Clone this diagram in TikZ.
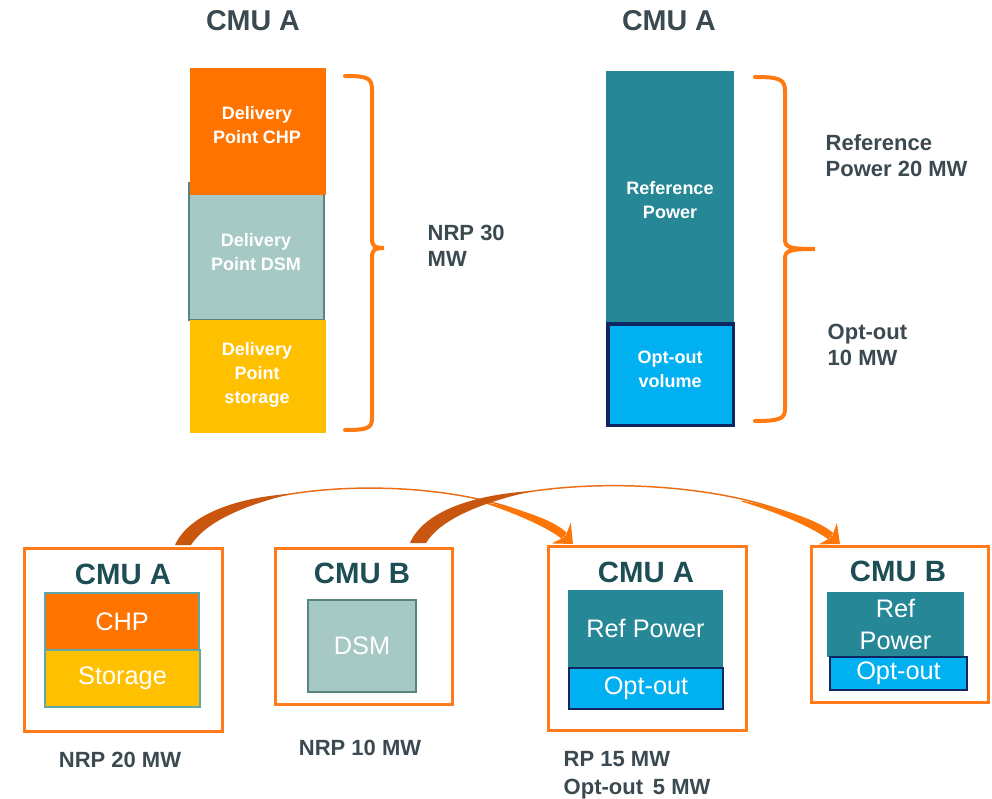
\documentclass[tikz,border=0pt]{standalone}
\usepackage{fontspec}
\setmainfont{Liberation Sans}
\usetikzlibrary{arrows.meta,calc,shadows}
\definecolor{cOrange}{HTML}{FF7300}
\definecolor{cYellow}{HTML}{FFC000}
\definecolor{cDsm}{HTML}{A6C9C6}
\definecolor{cDsmLine}{HTML}{55857E}
\definecolor{cTeal}{HTML}{268896}
\definecolor{cCyan}{HTML}{00B0F0}
\definecolor{cNavy}{HTML}{0F2660}
\definecolor{cText}{HTML}{3B4A50}
\definecolor{cTitle}{HTML}{1E4E55}
\definecolor{cBrace}{HTML}{FF7A10}
\definecolor{cFrame}{HTML}{FF7A1A}
\definecolor{cArrow}{HTML}{EA6E16}
\definecolor{cArrowEnd}{HTML}{FF7608}
\definecolor{cArrowDark}{HTML}{C8560F}
\definecolor{cInner}{HTML}{5FA8A6}
\begin{document}
\begin{tikzpicture}[x=0.75pt,y=-0.75pt,
  blk/.style={anchor=north west,inner sep=0pt,outer sep=0pt,align=center,text=white},
  btxt/.style={font=\fontsize{13.5}{18}\selectfont\bfseries,text=white,align=center},
  smalltxt/.style={font=\fontsize{19}{22}\selectfont},
  title/.style={font=\fontsize{21.5}{24}\selectfont\bfseries,text=cText},
  btitle/.style={font=\fontsize{22}{24}\selectfont\bfseries,text=cTitle},
  lbl/.style={font=\fontsize{16.5}{19.5}\selectfont\bfseries,text=cText,align=left},
  frame/.style={anchor=north west,draw=cFrame,line width=2.2pt,fill=white,inner sep=0pt,
    drop shadow={opacity=0.15,shadow xshift=1.5pt,shadow yshift=-1.5pt}},
  brace/.style={draw=cBrace,line width=3pt,line cap=round},
  conn/.style={draw=cArrow,line width=1.1pt,-{Stealth[length=12pt,width=21pt,inset=4pt,color=cArrowEnd]}}
]
\useasboundingbox (0,0) rectangle (992,799);

% ---------- top left ----------
\node[title] (t1) at (253,21) {CMU A};
\node[blk,fill=cDsm,draw=cDsmLine,line width=1.5pt,minimum width=101.25pt,minimum height=102.75pt] (dsm) at (189,183) {};
\node[blk,fill=cOrange,minimum width=102pt,minimum height=95.25pt] (chp) at (190,68) {};
\node[blk,fill=cYellow,minimum width=102pt,minimum height=84.75pt] (sto) at (190,320) {};
\node[btxt] (chpT) at (257,125) {Delivery\\Point CHP};
\node[btxt] (dsmT) at (256,252) {Delivery\\Point DSM};
\node[btxt] (stoT) at (257,375) {Delivery\\Point\\storage};
\draw[brace] (345,76) .. controls (368,76) and (372,78) .. (372,90) -- (372,238)
  .. controls (372,246) and (374,248) .. (384,248)
  .. controls (374,248) and (372,250) .. (372,258) -- (372,418)
  .. controls (372,428) and (368,430) .. (345,430);
\node[lbl,anchor=north west] (nrp30) at (423,220) {NRP 30\\MW};

% ---------- top right ----------
\node[title] (t2) at (669,21) {CMU A};
\node[blk,fill=cTeal,minimum width=96pt,minimum height=189pt] (ref) at (606,71) {};
\node[blk,fill=cCyan,draw=cNavy,line width=2.3pt,minimum width=94pt,minimum height=76pt] (opt) at (608,324) {};
\node[btxt] (refT) at (670,200) {Reference\\Power};
\node[btxt] (optT) at (670,369) {Opt-out\\volume};
\draw[brace] (755,77) .. controls (779,77) and (785,79) .. (785,91) -- (785,239)
  .. controls (785,247) and (788,249) .. (815,249)
  .. controls (788,249) and (785,251) .. (785,259) -- (785,409)
  .. controls (785,419) and (779,421) .. (755,421);
\node[lbl,anchor=north west] (rp20) at (821,130) {Reference\\Power 20 MW};
\node[lbl,anchor=north west] (oo10) at (823,319) {Opt-out\\10 MW};

% ---------- bottom ----------
\node[frame,minimum width=148.5pt,minimum height=137.25pt] (b1) at (23,547) {};
\node[btitle] (b1t) at (123,574) {CMU A};
\node[blk,smalltxt,fill=cOrange,draw=cInner,line width=0.8pt,minimum width=115.5pt,minimum height=42.75pt] (b1chp) at (45,593) {CHP};
\node[blk,smalltxt,fill=cYellow,draw=cInner,line width=0.8pt,minimum width=116.25pt,minimum height=42.75pt] (b1sto) at (45,650) {Storage};
\node[lbl] (nrp20) at (120,760) {NRP 20 MW};

\node[frame,minimum width=132.75pt,minimum height=117pt] (b2) at (274,547) {};
\node[btitle] (b2t) at (362,573) {CMU B};
\node[blk,smalltxt,fill=cDsm,draw=cDsmLine,line width=2.2pt,minimum width=81pt,minimum height=69pt] (b2dsm) at (308,600) {DSM};
\node[lbl] (nrp10) at (360,748) {NRP 10 MW};

\node[frame,minimum width=148.5pt,minimum height=138pt] (b3) at (547,545) {};
\node[btitle] (b3t) at (646,572) {CMU A};
\node[blk,smalltxt,fill=cTeal,minimum width=116.25pt,minimum height=57.75pt] (b3ref) at (568,590) {Ref Power};
\node[blk,smalltxt,fill=cCyan,draw=cNavy,line width=1.3pt,minimum width=115.5pt,minimum height=30.75pt] (b3opt) at (569,668) {Opt-out};
\node[lbl,anchor=north west,font=\fontsize{16.5}{21}\selectfont\bfseries] (rp15) at (559,747) {RP 15 MW\\Opt-out\, 5 MW};

\node[frame,minimum width=132.75pt,minimum height=117pt] (b4) at (810,545) {};
\node[btitle] (b4t) at (898,571) {CMU B};
\node[blk,smalltxt,fill=cTeal,minimum width=102.75pt,minimum height=48.75pt,font=\fontsize{19}{23.5}\selectfont] (b4ref) at (827,592) {Ref\\Power};
\node[blk,smalltxt,fill=cCyan,draw=cNavy,line width=1.3pt,minimum width=102.75pt,minimum height=24.75pt] (b4opt) at (830,657) {Opt-out};

% ---------- connectors ----------
\coordinate (s1) at ($(b1.north west)+(160,-2)$);
\coordinate (e1) at ($(b3.north west)+(26,-1)$);
\coordinate (s2) at ($(b2.north west)+(144,-4)$);
\coordinate (e2) at ($(b4.north west)+(30,-1)$);
\draw[conn] (s1) .. controls ($(s1)+(40,-74)$) and ($(e1)+(-80,-74)$) .. (e1);
\draw[conn] (s2) .. controls ($(s2)+(40,-76)$) and ($(e2)+(-90,-76)$) .. (e2);
% tapered thick parts following the connectors
\begin{scope}[shift={(s1)}]
  \fill[cArrowDark] (-8,0) .. controls (6,-31) and (54,-47.5) .. (108.5,-51.3)
    .. controls (58,-39) and (22,-22) .. (8,0) -- cycle;
  \fill[cArrowEnd] (300.9,-43) .. controls (340,-36) and (372,-24) .. (383.9,-12)
    -- (378.5,-6.2) .. controls (367,-16) and (336,-30.5) .. (300.9,-42) -- cycle;
\end{scope}
\begin{scope}[shift={(s2)}]
  \fill[cArrowDark] (-8,0) .. controls (6,-32) and (56,-48.5) .. (115.2,-52.1)
    .. controls (61,-40) and (22,-23) .. (8,0) -- cycle;
  \fill[cArrowEnd] (323.7,-42.4) .. controls (365,-35) and (402,-22) .. (415.4,-9.8)
    -- (410.2,-3.6) .. controls (397,-14) and (363,-29.5) .. (323.7,-41.4) -- cycle;
\end{scope}
\end{tikzpicture}
\end{document}
